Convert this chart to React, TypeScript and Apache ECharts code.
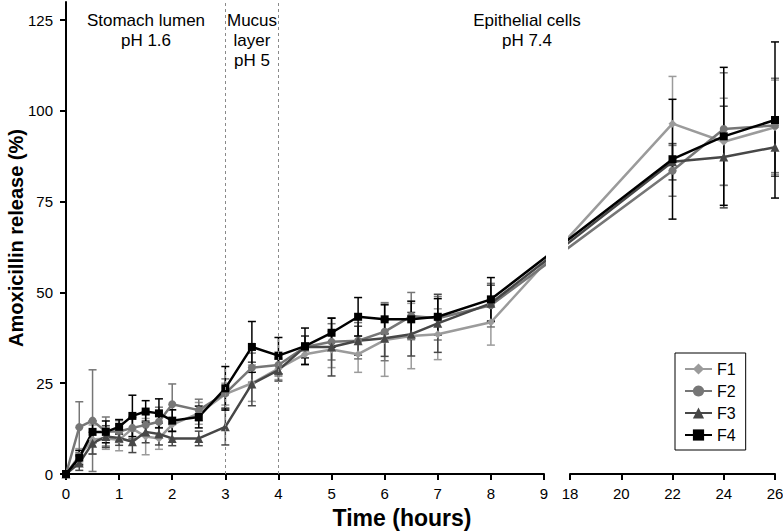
import React, { useEffect, useRef } from "react";
import * as echarts from "echarts";

// ---------- data ----------
const SERIES_NAMES = ["F1", "F2", "F3", "F4"];
const TIMES_EARLY = [0, 0.25, 0.5, 0.75, 1, 1.25, 1.5, 1.75, 2, 2.5, 3, 3.5, 4, 4.5, 5, 5.5, 6, 6.5, 7, 8];
const TIMES_LATE = [22, 24, 26];

const F1_EARLY = [0, 5, 9.5, 9.8, 9.4, 12.5, 10.3, 9.8, 13.6, 16.7, 22, 25, 29, 33, 34.3, 33, 36.9, 38, 38.5, 41.8];
const F1_LATE = [96.5, 91.5, 95.5];
const F2_EARLY = [0, 12.9, 14.7, 11.7, 11.7, 12.7, 13.5, 14.4, 19.2, 17.6, 22.2, 29.3, 30, 35, 36.4, 36.7, 39.2, 43.5, 42.9, 46.5];
const F2_LATE = [83.5, 95, 96];
const F3_EARLY = [0, 3, 8.5, 10.3, 9.9, 8.9, 11.6, 11, 9.8, 9.8, 13, 24.8, 28.6, 35, 35, 36.7, 37.4, 38.5, 41.5, 47];
const F3_LATE = [86, 87.3, 90];
const F4_EARLY = [0, 4.5, 11.6, 11.6, 13, 16, 17.2, 16.7, 14.7, 15.7, 23.6, 35, 32.6, 35.2, 38.9, 43.3, 42.6, 42.6, 43.3, 48.1];
const F4_LATE = [86.7, 93, 97.5];

const F1_SD_EARLY = [0, 2, 4, 3, 3, 3, 5, 3, 4, 3, 3, 5, 3, 3, 5, 5, 10, 9, 7, 6.3];
const F1_SD_LATE = [13, 12, 13];
const F2_SD_EARLY = [0, 7, 14, 4, 3, 3, 3, 4, 5.6, 3, 4, 4, 3, 3, 5, 5, 8, 6.5, 6, 6];
const F2_SD_LATE = [7, 15.5, 13];
const F3_SD_EARLY = [0, 2, 3, 3, 2, 3, 3, 3, 2, 2, 5, 6, 3, 3, 8, 4, 5, 6, 8, 5];
const F3_SD_LATE = [5, 14, 8];
const F4_SD_EARLY = [0, 2, 3, 3, 2, 5.7, 3, 4, 3, 3, 6, 7, 5, 5, 4, 5.3, 4, 5, 5, 6];
const F4_SD_LATE = [16.5, 19, 21.5];

const Y_TICKS = [0, 25, 50, 75, 100, 125];
const PHASE_BOUNDARIES = [3, 4];
const PHASE_LABELS = ["Stomach lumen\npH 1.6", "Mucus\nlayer\npH 5", "Epithelial cells\npH 7.4"];

const EARLY = [F1_EARLY, F2_EARLY, F3_EARLY, F4_EARLY];
const LATE = [F1_LATE, F2_LATE, F3_LATE, F4_LATE];
const SD_EARLY = [F1_SD_EARLY, F2_SD_EARLY, F3_SD_EARLY, F4_SD_EARLY];
const SD_LATE = [F1_SD_LATE, F2_SD_LATE, F3_SD_LATE, F4_SD_LATE];

// ---------- styles / layout ----------
const COLORS = ["#9b9b9b", "#767676", "#474747", "#000000"];
const SYMBOLS = ["diamond", "circle", "triangle", "rect"];
const SYMBOL_SIZES = [8, 8, 9, 8];
const FONT = "'Liberation Sans', Arial, Helvetica, sans-serif";

const L_X0 = 66, L_W = 478, R_X0 = 570, R_W = 205;
const G_TOP = 2, G_H = 472;
const L_MIN = 0, L_MAX = 9, R_MIN = 18, R_MAX = 26;

// map a time to its horizontal pixel on the broken axis, and back to each axis's units
const px = (t: number) =>
  t <= L_MAX ? L_X0 + ((t - L_MIN) / (L_MAX - L_MIN)) * L_W : R_X0 + ((t - R_MIN) / (R_MAX - R_MIN)) * R_W;
const toLeftUnits = (p: number) => L_MIN + ((p - L_X0) / L_W) * (L_MAX - L_MIN);
const toRightUnits = (p: number) => R_MIN + ((p - R_X0) / R_W) * (R_MAX - R_MIN);

function errRender(color: string) {
  return (params: any, api: any) => {
    const x = api.value(0);
    const lo = api.value(1);
    const hi = api.value(2);
    const a = api.coord([x, hi]);
    const b = api.coord([x, lo]);
    const cw = 4;
    const style = { stroke: color, lineWidth: 1.5 };
    return {
      type: "group",
      children: [
        { type: "line", shape: { x1: a[0], y1: a[1], x2: b[0], y2: b[1] }, style },
        { type: "line", shape: { x1: a[0] - cw, y1: a[1], x2: a[0] + cw, y2: a[1] }, style },
        { type: "line", shape: { x1: b[0] - cw, y1: b[1], x2: b[0] + cw, y2: b[1] }, style },
      ],
    };
  };
}

function buildOption() {
  const series: any[] = [];
  SERIES_NAMES.forEach((name, i) => {
    const early = EARLY[i], late = LATE[i];
    const color = COLORS[i];
    const errEarly = TIMES_EARLY.map((t, k) => [t, early[k] - SD_EARLY[i][k], early[k] + SD_EARLY[i][k]]).filter((d, k) => SD_EARLY[i][k] > 0);
    const errLate = TIMES_LATE.map((t, k) => [t, late[k] - SD_LATE[i][k], late[k] + SD_LATE[i][k]]);
    series.push({
      name: name + " SD",
      type: "custom",
      xAxisIndex: 0,
      yAxisIndex: 0,
      z: 1,
      renderItem: errRender(color),
      encode: { x: 0, y: [1, 2] },
      data: errEarly,
      clip: false,
    });
    series.push({
      name: name + " SD",
      type: "custom",
      xAxisIndex: 1,
      yAxisIndex: 1,
      z: 1,
      renderItem: errRender(color),
      encode: { x: 0, y: [1, 2] },
      data: errLate,
      clip: false,
    });
    const lineCommon = {
      name,
      type: "line",
      z: 3,
      symbol: SYMBOLS[i],
      symbolSize: SYMBOL_SIZES[i],
      showAllSymbol: true,
      clip: true,
      itemStyle: { color },
      lineStyle: { color, width: 2.5 },
    };
    const leftData: any[] = TIMES_EARLY.map((t, k) => [t, early[k]]);
    leftData.push({ value: [toLeftUnits(px(TIMES_LATE[0])), late[0]], symbol: "none" });
    const rightData: any[] = [
      { value: [toRightUnits(px(TIMES_EARLY[TIMES_EARLY.length - 1])), early[early.length - 1]], symbol: "none" },
      ...TIMES_LATE.map((t, k) => [t, late[k]]),
    ];
    series.push({
      ...lineCommon,
      xAxisIndex: 0,
      yAxisIndex: 0,
      data: leftData,
      markLine:
        i === 0
          ? {
              silent: true,
              symbol: "none",
              label: { show: false },
              lineStyle: { color: "#8a8a8a", type: [3, 3], width: 1 },
              data: PHASE_BOUNDARIES.map((b) => ({ xAxis: b })),
            }
          : undefined,
    });
    series.push({ ...lineCommon, xAxisIndex: 1, yAxisIndex: 1, data: rightData });
  });

  const axisLine = { show: true, lineStyle: { color: "#000", width: 2 } };
  const axisTick = { show: true, length: 6, lineStyle: { color: "#000", width: 2 } };
  const axisLabel = { color: "#000", fontSize: 15, fontFamily: FONT, margin: 12 };

  return {
    animation: false,
    backgroundColor: "#fff",
    grid: [
      { left: L_X0, top: G_TOP, width: L_W, height: G_H, containLabel: false, outerBoundsMode: "none" },
      { left: R_X0, top: G_TOP, width: R_W, height: G_H, containLabel: false, outerBoundsMode: "none" },
    ],
    xAxis: [
      {
        type: "value", gridIndex: 0, min: L_MIN, max: L_MAX, interval: 1,
        axisLine, axisTick, axisLabel, splitLine: { show: false },
      },
      {
        type: "value", gridIndex: 1, min: R_MIN, max: R_MAX, interval: 2,
        axisLine, axisTick, axisLabel, splitLine: { show: false },
      },
    ],
    yAxis: [
      {
        type: "value", gridIndex: 0, min: 0, max: 130,
        axisLine,
        axisTick: { ...axisTick, customValues: Y_TICKS },
        axisLabel: { ...axisLabel, margin: 13, customValues: Y_TICKS },
        splitLine: { show: false },
        name: "Amoxicillin release (%)",
        nameLocation: "middle",
        nameGap: 40,
        nameMoveOverlap: false,
        nameTextStyle: { color: "#000", fontSize: 20, fontWeight: "bold", fontFamily: FONT },
      },
      { type: "value", gridIndex: 1, min: 0, max: 130, show: false },
    ],
    legend: {
      data: SERIES_NAMES,
      orient: "vertical",
      left: 675,
      top: 353,
      width: 70,
      borderColor: "#000",
      borderWidth: 1,
      padding: [8, 10, 7, 9],
      itemGap: 6,
      itemWidth: 27,
      itemHeight: 14,
      textStyle: { color: "#000", fontSize: 16, fontFamily: FONT },
    },
    graphic: [
      {
        type: "text", x: 146, y: 10,
        style: { text: PHASE_LABELS[0], align: "center", verticalAlign: "top", fontSize: 17, lineHeight: 20, fontFamily: FONT, fill: "#000" },
      },
      {
        type: "text", x: 252, y: 10,
        style: { text: PHASE_LABELS[1], align: "center", verticalAlign: "top", fontSize: 17, lineHeight: 20, fontFamily: FONT, fill: "#000" },
      },
      {
        type: "text", x: 527, y: 10,
        style: { text: PHASE_LABELS[2], align: "center", verticalAlign: "top", fontSize: 17, lineHeight: 20, fontFamily: FONT, fill: "#000" },
      },
      {
        type: "text", x: 402, y: 518,
        style: { text: "Time (hours)", align: "center", verticalAlign: "middle", fontSize: 23, fontWeight: "bold", fontFamily: FONT, fill: "#000" },
      },
    ],
    series,
  };
}

export default function App() {
  const ref = useRef<HTMLDivElement>(null);
  useEffect(() => {
    if (!ref.current) return;
    const chart = echarts.init(ref.current, null, { renderer: "svg" });
    chart.setOption(buildOption() as any);
    return () => chart.dispose();
  }, []);
  return (
    <div
      ref={ref}
      style={{ position: "fixed", left: 0, top: 0, width: 783, height: 532, background: "#fff" }}
    />
  );
}
